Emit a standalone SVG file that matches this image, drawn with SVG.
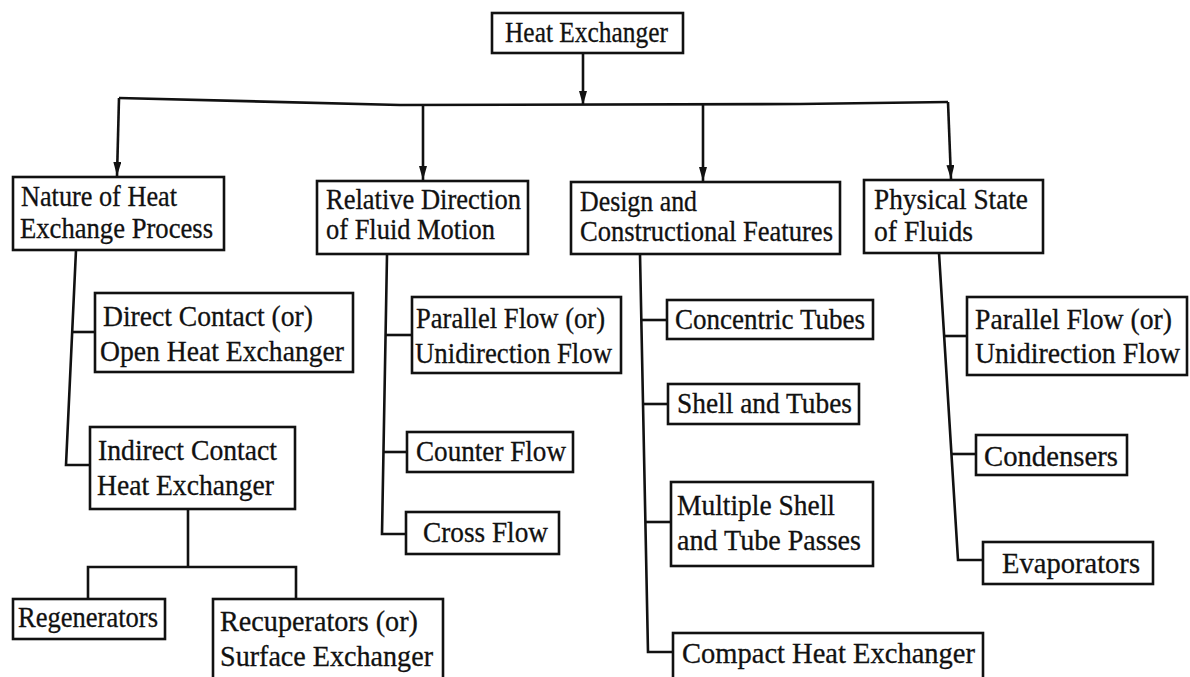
<svg xmlns="http://www.w3.org/2000/svg" width="1190" height="677" viewBox="0 0 1190 677">
<defs>
<style>
.box{fill:#fff;stroke:#111;stroke-width:2.6}
.ln{fill:none;stroke:#111;stroke-width:2.6}
text{font-family:"Liberation Serif","Times New Roman",serif;font-size:29px;fill:#111;stroke:#111;stroke-width:0.3}
</style>
<marker id="arr" viewBox="0 0 14 8" refX="14" refY="4" markerWidth="14" markerHeight="8" markerUnits="userSpaceOnUse" orient="auto">
<path d="M0,0 L14,4 L0,8 z" fill="#111"/>
</marker>
</defs>
<rect width="1190" height="677" fill="#fff"/>

<g id="connectors">
<line class="ln" x1="583" y1="53" x2="583" y2="105" marker-end="url(#arr)"/>
<polyline class="ln" points="119,98 400,105 800,104 948,102"/>
<line class="ln" x1="119" y1="98" x2="117" y2="176" marker-end="url(#arr)"/>
<line class="ln" x1="423" y1="105" x2="423" y2="180" marker-end="url(#arr)"/>
<line class="ln" x1="703" y1="104" x2="703" y2="181" marker-end="url(#arr)"/>
<line class="ln" x1="948" y1="102" x2="951" y2="179" marker-end="url(#arr)"/>
<polyline class="ln" points="76,250 66,465 90,465"/>
<line class="ln" x1="73" y1="332" x2="95" y2="332"/>
<line class="ln" x1="188" y1="509" x2="188" y2="567"/>
<polyline class="ln" points="88,599 88,567 296,567 296,599"/>
<polyline class="ln" points="387,255 382,534 406,534"/>
<line class="ln" x1="386" y1="335" x2="412" y2="335"/>
<line class="ln" x1="384" y1="452" x2="407" y2="452"/>
<polyline class="ln" points="640,254 648,652 673,652"/>
<line class="ln" x1="641" y1="320" x2="667" y2="320"/>
<line class="ln" x1="642" y1="404" x2="668" y2="404"/>
<line class="ln" x1="645" y1="522" x2="671" y2="522"/>
<polyline class="ln" points="939,253 958,560 983,560"/>
<line class="ln" x1="944" y1="336" x2="967" y2="336"/>
<line class="ln" x1="951" y1="454" x2="976" y2="454"/>
</g>

<g id="n-root"><rect class="box" x="492" y="13" width="191" height="40"/><text x="505" y="42" textLength="163" lengthAdjust="spacingAndGlyphs">Heat Exchanger</text></g>

<g id="n-nature"><rect class="box" x="13" y="177" width="211" height="73"/><text x="21" y="206" textLength="156" lengthAdjust="spacingAndGlyphs">Nature of Heat</text><text x="20" y="238" textLength="193" lengthAdjust="spacingAndGlyphs">Exchange Process</text></g>

<g id="n-relative"><rect class="box" x="317" y="181" width="211" height="73"/><text x="326" y="209" textLength="195" lengthAdjust="spacingAndGlyphs">Relative Direction</text><text x="326" y="239" textLength="169" lengthAdjust="spacingAndGlyphs">of Fluid Motion</text></g>

<g id="n-design"><rect class="box" x="571" y="182" width="269" height="72"/><text x="580" y="211" textLength="117" lengthAdjust="spacingAndGlyphs">Design and</text><text x="580" y="241" textLength="253" lengthAdjust="spacingAndGlyphs">Constructional Features</text></g>

<g id="n-physical"><rect class="box" x="864" y="180" width="179" height="73"/><text x="874" y="209" textLength="154" lengthAdjust="spacingAndGlyphs">Physical State</text><text x="874" y="241" textLength="99" lengthAdjust="spacingAndGlyphs">of Fluids</text></g>

<g id="n-direct"><rect class="box" x="95" y="293" width="258" height="79"/><text x="103" y="326" textLength="210" lengthAdjust="spacingAndGlyphs">Direct Contact (or)</text><text x="100" y="361" textLength="244" lengthAdjust="spacingAndGlyphs">Open Heat Exchanger</text></g>

<g id="n-indirect"><rect class="box" x="90" y="427" width="205" height="82"/><text x="98" y="460" textLength="179" lengthAdjust="spacingAndGlyphs">Indirect Contact</text><text x="97" y="495" textLength="177" lengthAdjust="spacingAndGlyphs">Heat Exchanger</text></g>

<g id="n-regen"><rect class="box" x="13" y="599" width="152" height="40"/><text x="18" y="627" textLength="140" lengthAdjust="spacingAndGlyphs">Regenerators</text></g>

<g id="n-recup"><rect class="box" x="213" y="599" width="230" height="82"/><text x="220" y="631" textLength="198" lengthAdjust="spacingAndGlyphs">Recuperators (or)</text><text x="220" y="666" textLength="213" lengthAdjust="spacingAndGlyphs">Surface Exchanger</text></g>

<g id="n-rel-parallel"><rect class="box" x="412" y="297" width="209" height="76"/><text x="416" y="328" textLength="189" lengthAdjust="spacingAndGlyphs">Parallel Flow (or)</text><text x="415" y="363" textLength="197" lengthAdjust="spacingAndGlyphs">Unidirection Flow</text></g>

<g id="n-counter"><rect class="box" x="407" y="432" width="166" height="40"/><text x="416" y="461" textLength="150" lengthAdjust="spacingAndGlyphs">Counter Flow</text></g>

<g id="n-cross"><rect class="box" x="406" y="512" width="153" height="42"/><text x="423" y="542" textLength="125" lengthAdjust="spacingAndGlyphs">Cross Flow</text></g>

<g id="n-concentric"><rect class="box" x="667" y="300" width="206" height="39"/><text x="675" y="329" textLength="190" lengthAdjust="spacingAndGlyphs">Concentric Tubes</text></g>

<g id="n-shell"><rect class="box" x="668" y="384" width="191" height="40"/><text x="677" y="413" textLength="175" lengthAdjust="spacingAndGlyphs">Shell and Tubes</text></g>

<g id="n-multiple"><rect class="box" x="671" y="482" width="202" height="84"/><text x="677" y="515" textLength="158" lengthAdjust="spacingAndGlyphs">Multiple Shell</text><text x="677" y="550" textLength="184" lengthAdjust="spacingAndGlyphs">and Tube Passes</text></g>

<g id="n-compact"><rect class="box" x="673" y="633" width="310" height="48"/><text x="682" y="663" textLength="293" lengthAdjust="spacingAndGlyphs">Compact Heat Exchanger</text></g>

<g id="n-phys-parallel"><rect class="box" x="967" y="297" width="220" height="78"/><text x="975" y="329" textLength="197" lengthAdjust="spacingAndGlyphs">Parallel Flow (or)</text><text x="975" y="363" textLength="205" lengthAdjust="spacingAndGlyphs">Unidirection Flow</text></g>

<g id="n-condensers"><rect class="box" x="976" y="435" width="151" height="40"/><text x="984" y="466" textLength="134" lengthAdjust="spacingAndGlyphs">Condensers</text></g>

<g id="n-evaporators"><rect class="box" x="983" y="542" width="170" height="42"/><text x="1002" y="573" textLength="138" lengthAdjust="spacingAndGlyphs">Evaporators</text></g>
</svg>
